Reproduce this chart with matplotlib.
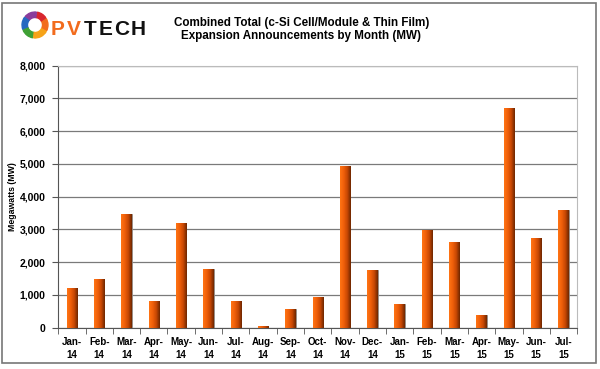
import numpy as np
import matplotlib
matplotlib.use("Agg")
from matplotlib import pyplot as plt
from matplotlib.patches import Rectangle, Wedge
from matplotlib.ticker import FuncFormatter, MultipleLocator

plt.rcParams["font.family"] = ["Liberation Sans", "DejaVu Sans"]

months = ["Jan-\n14", "Feb-\n14", "Mar-\n14", "Apr-\n14", "May-\n14", "Jun-\n14",
          "Jul-\n14", "Aug-\n14", "Sep-\n14", "Oct-\n14", "Nov-\n14", "Dec-\n14",
          "Jan-\n15", "Feb-\n15", "Mar-\n15", "Apr-\n15", "May-\n15", "Jun-\n15",
          "Jul-\n15"]
megawatts = [1200, 1500, 3480, 800, 3200, 1780, 800, 50, 560, 950,
             4950, 1770, 720, 2970, 2620, 380, 6720, 2740, 3580]

title = "Combined Total (c-Si Cell/Module & Thin Film)\nExpansion Announcements by Month (MW)"

fig = plt.figure(figsize=(6.0, 3.69), dpi=100)
fig.patch.set_facecolor("white")

# outer frame
fig.add_artist(Rectangle((0.004, 0.016), 0.989, 0.976, transform=fig.transFigure,
                         fill=False, edgecolor="#777777", lw=1.2))

ax = fig.add_axes([0.097, 0.112, 0.865, 0.710])
x = np.arange(len(megawatts))
bars = ax.bar(x, megawatts, width=0.38, color="#E8600A", edgecolor="#8a8a8a",
              linewidth=0.6, zorder=3)

# horizontal gradient on each bar (bright left, dark right)
grad = np.linspace(0, 1, 64).reshape(1, -1)
cmap = matplotlib.colors.LinearSegmentedColormap.from_list(
    "bar", ["#FF7414", "#F0600A", "#C84804", "#6E2600"])
for b in bars:
    im = ax.imshow(grad, cmap=cmap, aspect="auto", zorder=3.5,
                   extent=[b.get_x(), b.get_x() + b.get_width(), 0, b.get_height()])
    im.set_clip_path(b)

ax.set_xlim(-0.5, len(megawatts) - 0.5)
ax.set_ylim(0, 8000)
ax.yaxis.set_major_locator(MultipleLocator(1000))
ax.yaxis.set_major_formatter(FuncFormatter(lambda v, p: f"{int(v):,}"))
ax.grid(axis="y", color="#7a7a7a", lw=0.9, zorder=1)

ax.set_xticks(x)
ax.set_xticklabels(months, fontsize=7, fontweight="bold", linespacing=1.3)
ax.set_xticks(np.arange(-0.5, len(megawatts), 1), minor=True)
ax.tick_params(axis="x", which="major", length=0, pad=7)
ax.tick_params(axis="x", which="minor", length=4, color="#555555")
ax.tick_params(axis="y", labelsize=7.5, length=4, color="#555555", pad=5)
for lab in ax.get_yticklabels():
    lab.set_fontweight("bold")

ax.spines["left"].set_color("#555555")
ax.spines["bottom"].set_color("#555555")
ax.spines["top"].set_color("#bbbbbb")
ax.spines["right"].set_color("#bbbbbb")

ax.set_ylabel("Megawatts (MW)", fontsize=6.3, fontweight="bold")
ax.yaxis.set_label_coords(-0.079, 0.5)

fig.text(0.502, 0.921, title, ha="center", va="center", fontsize=8.4,
         fontweight="bold", linespacing=1.1)

# logo ring
lax = fig.add_axes([21 / 600, (369 - 25 - 14) / 369, 28 / 600, 28 / 369])
lax.set_xlim(-1.08, 1.08)
lax.set_ylim(-1.08, 1.08)
lax.axis("off")
ring = [(-30, 30, "#F26B1D"), (30, 80, "#D8262E"), (80, 140, "#8A3C9C"),
        (140, 200, "#2468C0"), (200, 260, "#3FA034"), (260, 330, "#F6A318")]
for a0, a1, c in ring:
    lax.add_patch(Wedge((0, 0), 1.0, a0 + 4, a1, width=0.42, color=c))

# logo letters
for i, ch in enumerate("PVTECH"):
    fig.text((58 + 16 * i) / 600, 1 - 29.5 / 369, ch,
             color="#F26B1D" if i < 2 else "#111111",
             fontsize=15, fontweight="bold", va="center", ha="center")

fig.savefig("out.png", dpi=100)
